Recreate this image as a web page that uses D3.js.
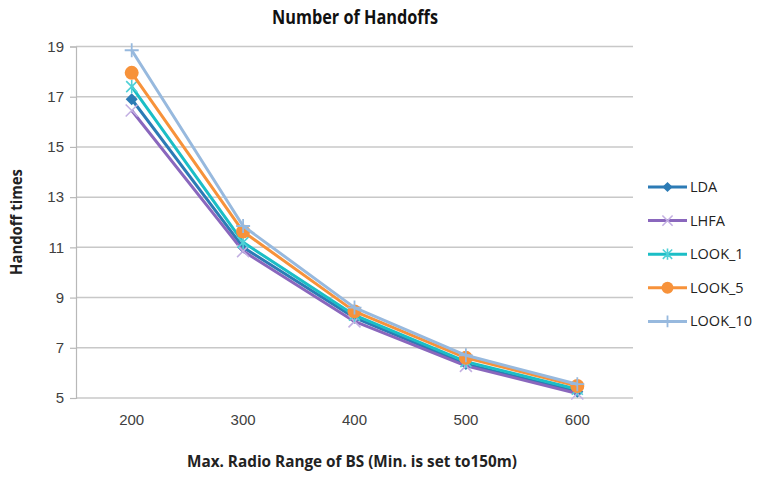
<!DOCTYPE html>
<html>
<head>
<meta charset="utf-8">
<script src="https://cdn.jsdelivr.net/npm/d3@7"></script>
<style>
  html, body { margin: 0; padding: 0; background: #fff; }
  svg { display: block; font-family: "Open Sans", "Noto Sans", sans-serif; }
</style>
</head>
<body>
<svg id="chart" width="764" height="477"></svg>
<script>
// Radio range categories (m)
const categories = ["200", "300", "400", "500", "600"];

// Handoff counts per algorithm
const seriesNames = ["LDA", "LHFA", "LOOK_1", "LOOK_5", "LOOK_10"];
const ldaValues    = [16.9, 11.0, 8.2, 6.35, 5.25];
const lhfaValues   = [16.45, 10.85, 8.05, 6.28, 5.18];
const look1Values  = [17.4, 11.2, 8.3, 6.45, 5.35];
const look5Values  = [17.95, 11.63, 8.45, 6.6, 5.48];
const look10Values = [18.85, 11.85, 8.6, 6.7, 5.55];

const yTicks = [5, 7, 9, 11, 13, 15, 17, 19];

const title = "Number of Handoffs";
const xTitle = "Max. Radio Range of BS (Min. is set to150m)";
const yTitle = "Handoff times";

const series = [
  { name: seriesNames[0], values: ldaValues,    color: "#2c7bb5", markerColor: "#2c7bb5", marker: "diamond" },
  { name: seriesNames[1], values: lhfaValues,   color: "#8a67bd", markerColor: "#c3b0e2", marker: "x" },
  { name: seriesNames[2], values: look1Values,  color: "#1bbec6", markerColor: "#4fd0d6", marker: "star" },
  { name: seriesNames[3], values: look5Values,  color: "#f7923a", markerColor: "#f7923a", marker: "circle" },
  { name: seriesNames[4], values: look10Values, color: "#97b9de", markerColor: "#97b9de", marker: "plus" }
];

const svg = d3.select("#chart");
const plot = { left: 76, right: 633, top: 46.5, bottom: 398 };

const x = d3.scaleBand().domain(categories).range([plot.left, plot.right]);
const y = d3.scaleLinear().domain([5, 19]).range([plot.bottom, plot.top]);
const cx = d => x(d) + x.bandwidth() / 2;

// Horizontal gridlines
svg.append("g")
  .selectAll("line")
  .data(yTicks)
  .join("line")
  .attr("x1", plot.left).attr("x2", plot.right)
  .attr("y1", d => y(d)).attr("y2", d => y(d))
  .attr("stroke", "#c8c8c8").attr("stroke-width", 1.5);

// Y axis
const yAxis = svg.append("g")
  .attr("transform", `translate(${plot.left},0)`)
  .call(d3.axisLeft(y).tickValues(yTicks).tickSize(6).tickPadding(6).tickFormat(d3.format("d")));
yAxis.select(".domain").attr("stroke", "#b8b8b8").attr("stroke-width", 1.2);
yAxis.selectAll(".tick line").attr("stroke", "#b8b8b8").attr("stroke-width", 1.2);
yAxis.selectAll(".tick text").attr("fill", "#404040").attr("font-size", 15);

// X axis labels
const xAxis = svg.append("g")
  .attr("transform", `translate(0,${plot.bottom})`)
  .call(d3.axisBottom(x).tickSize(0).tickPadding(16));
xAxis.select(".domain").remove();
xAxis.selectAll(".tick text").attr("fill", "#404040").attr("font-size", 15);

// Titles
svg.append("text")
  .attr("x", 355).attr("y", 24)
  .attr("text-anchor", "middle")
  .attr("font-size", 19).attr("font-weight", "bold").attr("fill", "#111")
  .attr("textLength", 166).attr("lengthAdjust", "spacingAndGlyphs")
  .text(title);

svg.append("text")
  .attr("x", 352).attr("y", 467)
  .attr("text-anchor", "middle")
  .attr("font-size", 15.5).attr("font-weight", "bold").attr("fill", "#222")
  .attr("textLength", 330).attr("lengthAdjust", "spacingAndGlyphs")
  .text(xTitle);

svg.append("text")
  .attr("transform", "translate(22,222) rotate(-90)")
  .attr("text-anchor", "middle")
  .attr("font-size", 15.5).attr("font-weight", "bold").attr("fill", "#222")
  .attr("textLength", 106).attr("lengthAdjust", "spacingAndGlyphs")
  .text(yTitle);

// Marker drawing
function drawMarker(g, type, color, size) {
  const s = size;
  if (type === "diamond") {
    g.append("path").attr("d", `M0,${-s}L${s},0L0,${s}L${-s},0Z`).attr("fill", color);
  } else if (type === "circle") {
    g.append("circle").attr("r", s).attr("fill", color);
  } else if (type === "x") {
    g.append("path").attr("d", `M${-s},${-s}L${s},${s}M${-s},${s}L${s},${-s}`)
      .attr("stroke", color).attr("stroke-width", 1.6).attr("fill", "none");
  } else if (type === "plus") {
    g.append("path").attr("d", `M${-s},0L${s},0M0,${-s}L0,${s}`)
      .attr("stroke", color).attr("stroke-width", 1.8).attr("fill", "none");
  } else if (type === "star") {
    g.append("path").attr("d", `M${-s},${-s}L${s},${s}M${-s},${s}L${s},${-s}M0,${-s * 1.2}L0,${s * 1.2}`)
      .attr("stroke", color).attr("stroke-width", 1.6).attr("fill", "none");
  }
}
const markerSize = { diamond: 6, circle: 7, x: 6, plus: 7, star: 5.5 };

const line = d3.line().x((d, i) => cx(categories[i])).y(d => y(d));

// Series lines and markers
series.forEach(s => {
  const g = svg.append("g");
  g.append("path")
    .datum(s.values)
    .attr("d", line)
    .attr("fill", "none")
    .attr("stroke", s.color)
    .attr("stroke-width", 3)
    .attr("stroke-linejoin", "round");
  s.values.forEach((v, i) => {
    const mg = g.append("g").attr("transform", `translate(${cx(categories[i])},${y(v)})`);
    drawMarker(mg, s.marker, s.markerColor, markerSize[s.marker]);
  });
});

// Legend
const legend = svg.append("g");
series.forEach((s, i) => {
  const ly = 187 + i * 33.6;
  const g = legend.append("g");
  g.append("line")
    .attr("x1", 648).attr("x2", 687).attr("y1", ly).attr("y2", ly)
    .attr("stroke", s.color).attr("stroke-width", 3);
  const mg = g.append("g").attr("transform", `translate(667.5,${ly})`);
  drawMarker(mg, s.marker, s.markerColor, markerSize[s.marker] * 0.85);
  g.append("text")
    .attr("x", 690).attr("y", ly).attr("dy", "0.35em")
    .attr("font-size", 14.5).attr("fill", "#222")
    .text(s.name);
});
</script>
</body>
</html>
